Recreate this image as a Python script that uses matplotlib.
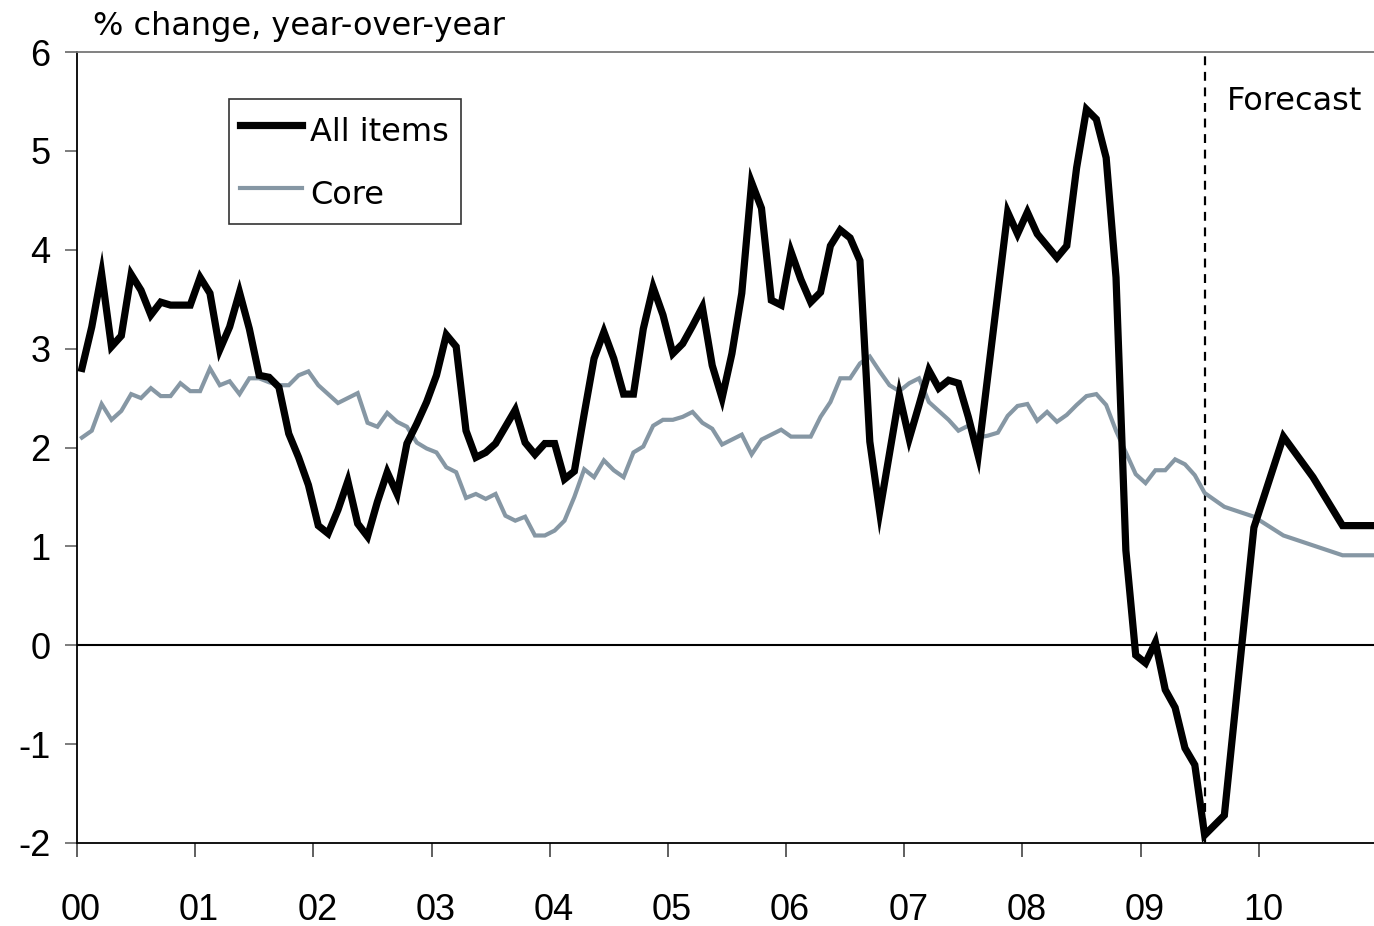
import numpy as np
import matplotlib
matplotlib.use("Agg")
import matplotlib.pyplot as plt
from matplotlib.transforms import ScaledTranslation

# ---- data (monthly, Jan 2000 .. Jul 2009) ----
all_items = [
    2.80, 3.22, 3.76, 3.02, 3.13, 3.75, 3.59, 3.34, 3.47, 3.44, 3.44, 3.44,   # 2000
    3.72, 3.56, 2.99, 3.22, 3.57, 3.20, 2.73, 2.71, 2.61, 2.14, 1.90, 1.62,   # 2001
    1.21, 1.13, 1.37, 1.66, 1.23, 1.10, 1.45, 1.75, 1.53, 2.04, 2.24, 2.46,   # 2002
    2.73, 3.14, 3.02, 2.17, 1.90, 1.95, 2.04, 2.21, 2.38, 2.05, 1.93, 2.04,   # 2003
    2.04, 1.68, 1.76, 2.34, 2.90, 3.17, 2.90, 2.54, 2.54, 3.20, 3.62, 3.34,   # 2004
    2.95, 3.05, 3.23, 3.42, 2.83, 2.50, 2.95, 3.56, 4.68, 4.42, 3.49, 3.44,   # 2005
    3.98, 3.70, 3.47, 3.57, 4.04, 4.20, 4.12, 3.89, 2.06, 1.35, 1.94, 2.53,   # 2006
    2.09, 2.43, 2.78, 2.60, 2.68, 2.65, 2.31, 1.92, 2.74, 3.56, 4.38, 4.16,   # 2007
    4.38, 4.16, 4.04, 3.92, 4.04, 4.83, 5.42, 5.32, 4.93, 3.72, 0.96, -0.10,  # 2008
    -0.18, 0.03, -0.45, -0.63, -1.04, -1.21, -1.92,                           # 2009
]
core = [
    2.10, 2.17, 2.44, 2.28, 2.37, 2.54, 2.50, 2.60, 2.52, 2.52, 2.65, 2.57,   # 2000
    2.57, 2.80, 2.63, 2.67, 2.54, 2.70, 2.70, 2.66, 2.63, 2.63, 2.73, 2.77,   # 2001
    2.63, 2.54, 2.45, 2.50, 2.55, 2.25, 2.21, 2.35, 2.26, 2.21, 2.05, 1.99,   # 2002
    1.95, 1.80, 1.75, 1.49, 1.53, 1.48, 1.53, 1.31, 1.26, 1.30, 1.11, 1.11,   # 2003
    1.16, 1.26, 1.50, 1.78, 1.70, 1.87, 1.77, 1.70, 1.95, 2.01, 2.22, 2.28,   # 2004
    2.28, 2.31, 2.36, 2.25, 2.19, 2.03, 2.08, 2.13, 1.93, 2.08, 2.13, 2.18,   # 2005
    2.11, 2.11, 2.11, 2.31, 2.46, 2.70, 2.70, 2.85, 2.92, 2.77, 2.63, 2.57,   # 2006
    2.65, 2.70, 2.46, 2.37, 2.28, 2.17, 2.22, 2.10, 2.12, 2.15, 2.32, 2.42,   # 2007
    2.44, 2.27, 2.36, 2.26, 2.33, 2.43, 2.52, 2.54, 2.43, 2.17, 1.95, 1.73,   # 2008
    1.64, 1.77, 1.77, 1.88, 1.83, 1.72, 1.54,                                 # 2009
]
# forecast (quarter-end months, index counted from Jan 2000 = 0)
forecast_month = [116, 119, 122, 125, 128, 131]
forecast_all = [-1.72, 1.19, 2.11, 1.70, 1.21, 1.21]
forecast_core = [1.40, 1.30, 1.11, 1.01, 0.91, 0.91]

year_labels = ["00", "01", "02", "03", "04", "05", "06", "07", "08", "09", "10"]
y_ticks = [-2, -1, 0, 1, 2, 3, 4, 5, 6]

# ---- figure ----
W, H = 1374, 926
fig = plt.figure(figsize=(W / 100, H / 100), dpi=100)
ax_left, ax_right, ax_top, ax_bottom = 77, 1377, 52, 843
ax = fig.add_axes([ax_left / W, 1 - ax_bottom / H, (ax_right - ax_left) / W, (ax_bottom - ax_top) / H])

n_act = len(all_items)
x_act = np.arange(n_act) + 0.5
x_all = np.concatenate([x_act, np.array(forecast_month) + 0.5])
y_all = np.concatenate([all_items, forecast_all])
y_core = np.concatenate([core, forecast_core])

core_color = "#8697A4"
ax.axhline(0, color="black", lw=1.5, zorder=1)
ax.axvline(n_act - 0.5, color="black", lw=1.6, ls=(0, (4, 3)), zorder=1)
ax.plot(x_all, y_core, color=core_color, lw=3.0, solid_joinstyle="miter", label="Core", zorder=2)
ax.plot(x_all, y_all, color="black", lw=5.2, solid_joinstyle="miter", label="All items", zorder=3)

ax.set_xlim(0, 132)
ax.set_ylim(-2, 6)
ax.set_xticks(np.arange(len(year_labels)) * 12)
ax.set_xticklabels(year_labels)
ax.set_yticks(y_ticks)
ax.set_yticklabels([str(v) for v in y_ticks])

tick_family = ["Liberation Sans", "DejaVu Sans"]
for lab in ax.get_xticklabels() + ax.get_yticklabels():
    lab.set_fontfamily(tick_family)
    lab.set_fontsize(26)
ax.tick_params(axis="x", direction="out", length=10, width=1.2, color="#444444", pad=26)
ax.tick_params(axis="y", direction="out", length=9, width=1.2, color="#666666", pad=10)
off = ScaledTranslation(4 / 100, 0, fig.dpi_scale_trans)
for lab in ax.get_xticklabels():
    lab.set_transform(lab.get_transform() + off)

ax.spines["right"].set_visible(False)
ax.spines["top"].set_color("#777777")
ax.spines["top"].set_linewidth(1.3)
ax.spines["left"].set_color("black")
ax.spines["left"].set_linewidth(1.3)
ax.spines["bottom"].set_color("black")
ax.spines["bottom"].set_linewidth(1.3)

text_font = ["DejaVu Sans"]
fig.text(93 / W, 1 - 35 / H, "% change, year-over-year", fontsize=23, family=text_font,
         ha="left", va="baseline")
fig.text(1227 / W, 1 - 110 / H, "Forecast", fontsize=23, family=text_font,
         ha="left", va="baseline")

handles, labels = ax.get_legend_handles_labels()
order = [1, 0]
leg = ax.legend([handles[i] for i in order], [labels[i] for i in order],
                loc="upper left", bbox_to_anchor=(229 / W, 1 - 99 / H),
                bbox_transform=fig.transFigure, borderaxespad=0,
                prop=dict(family=text_font, size=23), frameon=True, fancybox=False,
                edgecolor="black", handlelength=1.95, handletextpad=0.25,
                handleheight=1.55, labelspacing=0.72, borderpad=0.35)
leg.get_frame().set_linewidth(1.2)

fig.savefig("out.png", dpi=100)
